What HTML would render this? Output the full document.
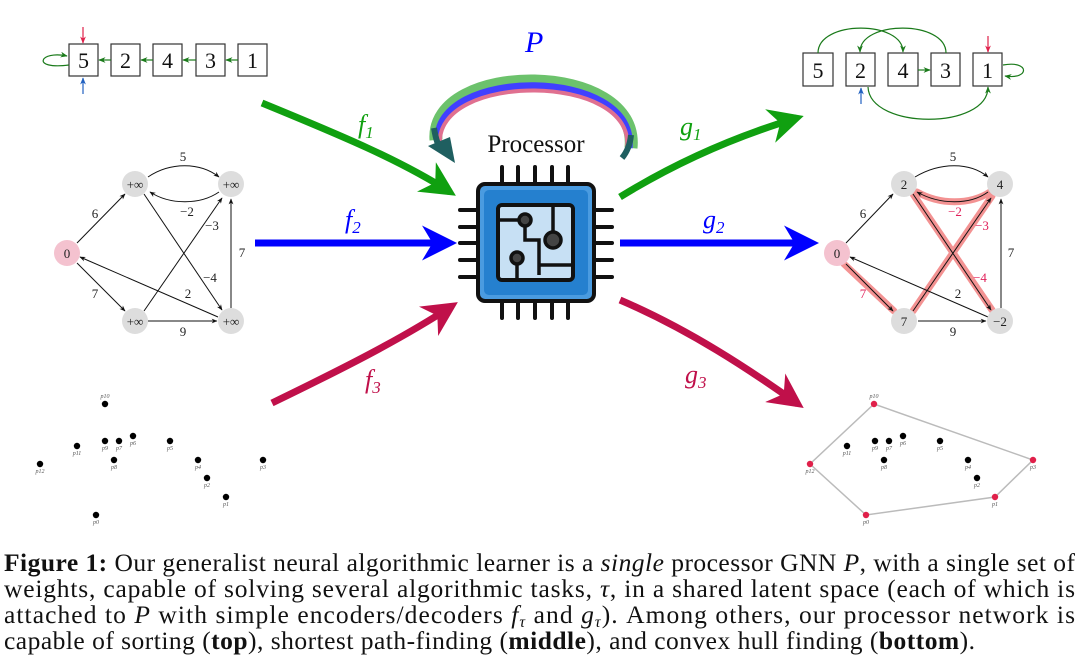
<!DOCTYPE html>
<html><head><meta charset="utf-8"><style>
html,body{margin:0;padding:0;background:#fff;width:1080px;height:670px;overflow:hidden}
svg{display:block}
.s{font-family:"Liberation Serif",serif}
</style></head><body>
<svg width="1080" height="670" viewBox="0 0 1080 670" xmlns="http://www.w3.org/2000/svg" class="s">
<defs>
<marker id="ab" viewBox="0 0 10 10" refX="9" refY="5" markerWidth="6" markerHeight="6" orient="auto"><path d="M0,1 L10,5 L0,9 L3,5z" fill="#111"/></marker>
<marker id="ag" viewBox="0 0 10 10" refX="9" refY="5" markerWidth="6" markerHeight="6" orient="auto"><path d="M0,1 L10,5 L0,9 L3,5z" fill="#1a7a1a"/></marker>
<marker id="ar" viewBox="0 0 10 10" refX="9" refY="5" markerWidth="6" markerHeight="6" orient="auto"><path d="M0,1 L10,5 L0,9 L3,5z" fill="#e0204a"/></marker>
<marker id="abl" viewBox="0 0 10 10" refX="9" refY="5" markerWidth="6" markerHeight="6" orient="auto"><path d="M0,1 L10,5 L0,9 L3,5z" fill="#2060c0"/></marker>
<marker id="big" viewBox="0 0 10 10" refX="8" refY="5" markerWidth="5" markerHeight="5" markerUnits="strokeWidth" orient="auto"><path d="M0,0 L10,5 L0,10 L3,5z" fill="context-stroke"/></marker>
</defs>

<g stroke="#333" stroke-width="1.2" fill="#fff">
<rect x="69" y="44" width="29" height="32"/><rect x="111" y="44" width="29" height="32"/><rect x="153" y="44" width="29" height="32"/><rect x="196" y="44" width="29" height="32"/><rect x="238" y="44" width="29" height="32"/>
</g>
<g font-size="22" text-anchor="middle" fill="#111"><text x="83.5" y="68">5</text><text x="125.5" y="68">2</text><text x="167.5" y="68">4</text><text x="210.5" y="68">3</text><text x="252.5" y="68">1</text></g>
<g stroke="#1a7a1a" stroke-width="1.2" fill="none">
<line x1="111" y1="60" x2="99" y2="60" marker-end="url(#ag)"/><line x1="153" y1="60" x2="141" y2="60" marker-end="url(#ag)"/><line x1="196" y1="60" x2="183" y2="60" marker-end="url(#ag)"/><line x1="238" y1="60" x2="226" y2="60" marker-end="url(#ag)"/>
<path d="M69,65 C30,70 40,50 67,56" marker-end="url(#ag)"/>
</g>
<line x1="83" y1="27" x2="83" y2="43" stroke="#e0204a" stroke-width="1.2" marker-end="url(#ar)"/>
<line x1="83" y1="94" x2="83" y2="78" stroke="#2060c0" stroke-width="1.2" marker-end="url(#abl)"/>

<g stroke="#333" stroke-width="1.2" fill="#fff">
<rect x="803" y="53" width="30" height="33"/><rect x="846" y="53" width="29" height="33"/><rect x="888" y="53" width="30" height="33"/><rect x="931" y="53" width="29" height="33"/><rect x="973" y="53" width="29" height="33"/>
</g>
<g font-size="22" text-anchor="middle" fill="#111"><text x="818" y="78">5</text><text x="860.5" y="78">2</text><text x="903" y="78">4</text><text x="945.5" y="78">3</text><text x="987.5" y="78">1</text></g>
<g stroke="#1a7a1a" stroke-width="1.2" fill="none">
<line x1="918" y1="70" x2="930" y2="70" marker-end="url(#ag)"/>
<path d="M818,53 C818,20 903,20 903,52" marker-end="url(#ag)"/>
<path d="M946,53 C946,20 860,20 860,52" marker-end="url(#ag)"/>
<path d="M868,87 C870,130 988,130 988,87" marker-end="url(#ag)"/>
<path d="M1003,65 C1030,60 1030,80 1005,76" marker-end="url(#ag)"/>
</g>
<line x1="988" y1="36" x2="988" y2="52" stroke="#e0204a" stroke-width="1.2" marker-end="url(#ar)"/>
<line x1="861" y1="104" x2="861" y2="88" stroke="#2060c0" stroke-width="1.2" marker-end="url(#abl)"/>

<g stroke="#111" stroke-width="1" fill="none" marker-end="url(#ab)">
<path d="M148,177 C170,162 200,162 219,177"/>
<path d="M219,192 C200,205 170,205 150,192"/>
<line x1="77" y1="243" x2="125" y2="194"/>
<line x1="77" y1="263" x2="125" y2="311"/>
<line x1="144" y1="194" x2="222" y2="310"/>
<line x1="144" y1="311" x2="222" y2="198"/>
<line x1="148" y1="321" x2="217" y2="321"/>
<line x1="231" y1="308" x2="231" y2="199"/>
<line x1="218" y1="317" x2="80" y2="257"/>
</g>
<circle cx="67" cy="253" r="13" fill="#f4c2cf"/>
<g fill="#ddd"><circle cx="135" cy="184" r="13"/><circle cx="231" cy="184" r="13"/><circle cx="135" cy="321" r="13"/><circle cx="231" cy="321" r="13"/></g>
<g font-size="13" text-anchor="middle" fill="#222">
<text x="67" y="258">0</text><text x="135" y="189">+∞</text><text x="231" y="189">+∞</text><text x="135" y="326">+∞</text><text x="231" y="326">+∞</text>
<text x="183" y="161">5</text><text x="187" y="216">−2</text><text x="95" y="218">6</text><text x="95" y="298">7</text><text x="242" y="257">7</text><text x="212" y="230">−3</text><text x="210" y="282">−4</text><text x="188" y="298">2</text><text x="183" y="336">9</text>
</g>

<g stroke="#f28080" stroke-width="7" fill="none" stroke-linecap="round" opacity="0.85">
<path d="M990,192 C970,205 940,205 917,192"/>
<line x1="844" y1="264" x2="894" y2="311"/>
<line x1="913" y1="194" x2="992" y2="310"/>
<line x1="913" y1="311" x2="992" y2="196"/>
</g>
<g stroke="#111" stroke-width="1" fill="none" marker-end="url(#ab)">
<path d="M915,177 C940,162 970,162 988,177"/>
<path d="M988,192 C970,205 940,205 917,192"/>
<line x1="846" y1="243" x2="893" y2="194"/>
<line x1="846" y1="264" x2="893" y2="311"/>
<line x1="913" y1="194" x2="991" y2="310"/>
<line x1="913" y1="311" x2="991" y2="198"/>
<line x1="918" y1="321" x2="986" y2="321"/>
<line x1="1001" y1="308" x2="1001" y2="199"/>
<line x1="988" y1="317" x2="850" y2="257"/>
</g>
<circle cx="837" cy="253" r="13" fill="#f4c2cf"/>
<g fill="#ddd"><circle cx="904" cy="184" r="13"/><circle cx="1000" cy="184" r="13"/><circle cx="904" cy="321" r="13"/><circle cx="1000" cy="321" r="13"/></g>
<g font-size="13" text-anchor="middle" fill="#222">
<text x="837" y="258">0</text><text x="904" y="189">2</text><text x="1000" y="189">4</text><text x="904" y="326">7</text><text x="1000" y="326">−2</text>
<text x="953" y="161">5</text><text x="863" y="218">6</text><text x="1011" y="257">7</text><text x="958" y="298">2</text><text x="953" y="336">9</text>
</g>
<g font-size="13" text-anchor="middle" fill="#e0205a"><text x="955" y="216">−2</text><text x="982" y="230">−3</text><text x="980" y="282">−4</text><text x="863" y="298">7</text></g>

<g fill="none" stroke-width="7" marker-end="url(#big)">
<path d="M262,103 C340,135 400,160 450,192" stroke="#10a010"/>
<line x1="255" y1="243" x2="450" y2="243" stroke="#0000ff"/>
<path d="M272,403 C340,370 400,340 452,306" stroke="#c0104a"/>
<path d="M620,197 C680,160 740,135 797,118" stroke="#10a010"/>
<line x1="620" y1="243" x2="812" y2="243" stroke="#0000ff"/>
<path d="M620,300 C690,330 750,370 798,404" stroke="#c0104a"/>
</g>
<g font-size="26" font-style="italic">
<text x="358" y="133" fill="#10a010">f<tspan font-size="17" dy="5">1</tspan></text>
<text x="345" y="228" fill="#0000ff">f<tspan font-size="17" dy="5">2</tspan></text>
<text x="365" y="388" fill="#c0104a">f<tspan font-size="17" dy="5">3</tspan></text>
<text x="680" y="135" fill="#10a010">g<tspan font-size="17" dy="5">1</tspan></text>
<text x="703" y="228" fill="#0000ff">g<tspan font-size="17" dy="5">2</tspan></text>
<text x="685" y="383" fill="#c0104a">g<tspan font-size="17" dy="5">3</tspan></text>
<text x="525" y="52" fill="#0000ff" font-size="30">P</text>
</g>

<g fill="none">
<path d="M436,140 C430,60 640,60 631,148" stroke="#6cc26c" stroke-width="13"/>
<path d="M438,142 C432,66 638,66 629,148" stroke="#4040ff" stroke-width="7"/>
<path d="M440,144 C435,72 636,72 627,148" stroke="#e07090" stroke-width="4"/>
<path d="M434,128 C436,140 438,146 442,150" stroke="#1f5f60" stroke-width="6"/>
<path d="M631,135 C630,145 627,152 622,158" stroke="#1f5f60" stroke-width="6"/>
<path d="M428,146 L455,163 L450,137z" fill="#1f5f60"/>
</g>
<text x="536" y="152" font-size="25" text-anchor="middle" fill="#111">Processor</text>

<g stroke="#111" stroke-width="4" stroke-linecap="round">
<line x1="502" y1="167" x2="502" y2="183"/><line x1="518" y1="167" x2="518" y2="183"/><line x1="535" y1="167" x2="535" y2="183"/><line x1="552" y1="167" x2="552" y2="183"/><line x1="568" y1="167" x2="568" y2="183"/>
<line x1="502" y1="302" x2="502" y2="318"/><line x1="518" y1="302" x2="518" y2="318"/><line x1="535" y1="302" x2="535" y2="318"/><line x1="552" y1="302" x2="552" y2="318"/><line x1="568" y1="302" x2="568" y2="318"/>
<line x1="460" y1="210" x2="477" y2="210"/><line x1="460" y1="227" x2="477" y2="227"/><line x1="460" y1="243" x2="477" y2="243"/><line x1="460" y1="260" x2="477" y2="260"/><line x1="460" y1="277" x2="477" y2="277"/>
<line x1="595" y1="210" x2="612" y2="210"/><line x1="595" y1="227" x2="612" y2="227"/><line x1="595" y1="243" x2="612" y2="243"/><line x1="595" y1="260" x2="612" y2="260"/><line x1="595" y1="277" x2="612" y2="277"/>
</g>
<rect x="478" y="184" width="116" height="117" rx="7" fill="#4a9be0" stroke="#111" stroke-width="4"/>
<rect x="484" y="190" width="104" height="105" rx="5" fill="#2580cf"/>
<rect x="498" y="205" width="75" height="75" rx="4" fill="#c7e0f4" stroke="#111" stroke-width="4"/>
<g stroke="#111" stroke-width="3.5" fill="none">
<path d="M500,220 H525 V240 H539 V275"/>
<path d="M553,207 V240"/><path d="M539,265 H571"/><path d="M517,258 V278"/>
</g>
<g fill="#444" stroke="#111" stroke-width="3.5"><circle cx="525" cy="220" r="6"/><circle cx="553" cy="240" r="8"/><circle cx="517" cy="258" r="6"/></g>

<g fill="#000">
<circle cx="105" cy="404" r="3.2"/><circle cx="77" cy="446" r="3.2"/><circle cx="105" cy="441" r="3.2"/><circle cx="119" cy="441" r="3.2"/><circle cx="133" cy="436" r="3.2"/><circle cx="170" cy="441" r="3.2"/><circle cx="40" cy="464" r="3.2"/><circle cx="114" cy="460" r="3.2"/><circle cx="198" cy="460" r="3.2"/><circle cx="263" cy="460" r="3.2"/><circle cx="207" cy="478" r="3.2"/><circle cx="226" cy="497" r="3.2"/><circle cx="96" cy="515" r="3.2"/>
</g>
<g font-size="6" font-style="italic" fill="#555" text-anchor="middle">
<text x="105" y="398">p10</text><text x="77" y="455">p11</text><text x="105" y="450">p9</text><text x="119" y="450">p7</text><text x="133" y="445">p6</text><text x="170" y="450">p5</text><text x="40" y="473">p12</text><text x="114" y="469">p8</text><text x="198" y="469">p4</text><text x="263" y="469">p3</text><text x="207" y="487">p2</text><text x="226" y="506">p1</text><text x="96" y="524">p0</text>
</g>

<polygon points="874,404 1033,460 995,497 866,515 810,464" fill="none" stroke="#bbb" stroke-width="1.5"/>
<g fill="#000">
<circle cx="847" cy="446" r="3.2"/><circle cx="875" cy="441" r="3.2"/><circle cx="889" cy="441" r="3.2"/><circle cx="903" cy="436" r="3.2"/><circle cx="940" cy="441" r="3.2"/><circle cx="884" cy="460" r="3.2"/><circle cx="968" cy="460" r="3.2"/><circle cx="977" cy="478" r="3.2"/>
</g>
<g fill="#e0204a"><circle cx="874" cy="404" r="3.2"/><circle cx="1033" cy="460" r="3.2"/><circle cx="995" cy="497" r="3.2"/><circle cx="866" cy="515" r="3.2"/><circle cx="810" cy="464" r="3.2"/></g>
<g font-size="6" font-style="italic" fill="#555" text-anchor="middle">
<text x="874" y="398">p10</text><text x="847" y="455">p11</text><text x="875" y="450">p9</text><text x="889" y="450">p7</text><text x="903" y="445">p6</text><text x="940" y="450">p5</text><text x="810" y="473">p12</text><text x="884" y="469">p8</text><text x="968" y="469">p4</text><text x="1033" y="469">p3</text><text x="977" y="487">p2</text><text x="995" y="506">p1</text><text x="866" y="524">p0</text>
</g>

<g font-size="25.5" fill="#111">
<text x="4" y="571" textLength="1071" lengthAdjust="spacing"><tspan font-weight="bold">Figure 1:</tspan> Our generalist neural algorithmic learner is a <tspan font-style="italic">single</tspan> processor GNN <tspan font-style="italic">P</tspan>, with a single set of</text>
<text x="4" y="597" textLength="1071" lengthAdjust="spacing">weights, capable of solving several algorithmic tasks, <tspan font-style="italic">τ</tspan>, in a shared latent space (each of which is</text>
<text x="4" y="623" textLength="1071" lengthAdjust="spacing">attached to <tspan font-style="italic">P</tspan> with simple encoders/decoders <tspan font-style="italic">f</tspan><tspan font-size="16" font-style="italic" dy="4">τ</tspan><tspan dy="-4"> and </tspan><tspan font-style="italic">g</tspan><tspan font-size="16" font-style="italic" dy="4">τ</tspan><tspan dy="-4">). Among others, our processor network is</tspan></text>
<text x="4" y="649" textLength="971" lengthAdjust="spacing">capable of sorting (<tspan font-weight="bold">top</tspan>), shortest path-finding (<tspan font-weight="bold">middle</tspan>), and convex hull finding (<tspan font-weight="bold">bottom</tspan>).</text>
</g>
</svg>
</body></html>
